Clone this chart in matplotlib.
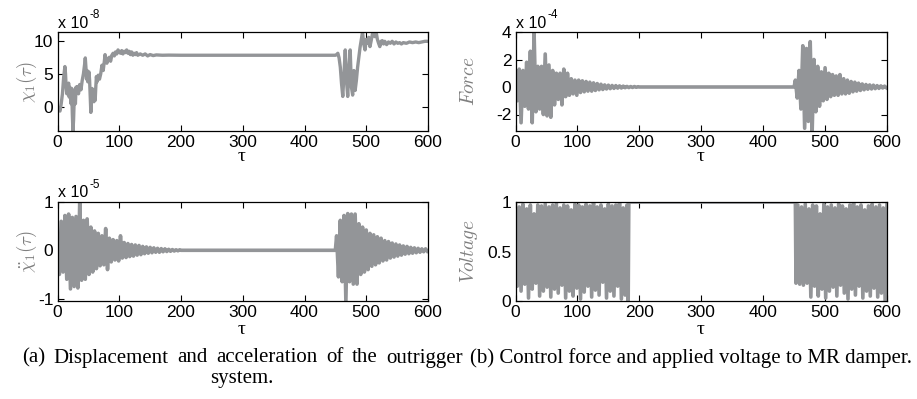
import matplotlib
matplotlib.use('Agg')
import matplotlib.pyplot as plt
import numpy as np

# ---------------- data ----------------
# displacement chi_1 (units of 1e-8)
disp_tau = [0, 2, 4, 6, 8, 10, 12, 13, 14, 15,
            16, 17, 18, 19, 20, 21, 22, 23, 24, 25,
            26, 27, 28, 29, 30, 31, 32, 34, 36, 38,
            40, 42, 44, 45, 46, 47, 48, 49, 50, 51,
            52, 53, 54, 55, 56, 57, 58, 59, 60, 61,
            62, 63, 64, 66, 68, 70, 72, 74, 76, 77,
            78, 79, 80, 82, 84, 86, 88, 90, 92, 94,
            96, 98, 100, 102, 104, 106, 108, 110, 112, 114,
            116, 118, 120, 122, 124, 126, 128, 130, 134, 138,
            142, 146, 150, 155, 160, 170, 180, 200, 300, 400,
            450, 452, 454, 456, 458, 460, 462, 464, 466, 468,
            470, 472, 474, 476, 478, 480, 482, 484, 486, 488,
            490, 492, 494, 496, 498, 500, 502, 504, 506, 508,
            510, 512, 514, 516, 518, 520, 522, 524, 526, 528,
            530, 533, 536, 539, 542, 545, 548, 551, 554, 557,
            560, 565, 570, 575, 580, 585, 590, 595, 600]
disp_val = [0.0, -0.3, -0.6, 0.5, 2.0, 4.5, 6.1, 5.0, 3.0, 2.0,
            3.2, 2.4, 3.6, 1.5, 3.0, 2.0, 0.5, 2.8, -1.0, -3.6,
            -2.0, 1.0, 2.6, 0.5, 3.0, 2.2, 3.1, 2.0, 3.4, 2.6,
            4.0, 5.0, 6.5, 7.4, 6.0, 4.2, 5.5, 3.8, 4.6, 5.3,
            4.0, 1.5, -0.8, 1.0, 2.8, 1.8, 2.6, 0.8, 1.5, 1.0,
            3.0, 4.6, 3.8, 4.8, 4.2, 5.0, 6.3, 5.5, 7.0, 7.9,
            6.8, 7.4, 6.6, 7.2, 7.5, 6.9, 7.8, 8.1, 7.7, 8.3,
            8.0, 8.6, 8.3, 8.1, 8.5, 8.0, 8.4, 8.2, 8.6, 8.1,
            8.4, 7.9, 8.3, 7.8, 8.1, 7.9, 8.2, 7.8, 8.0, 7.8,
            8.0, 7.7, 7.9, 7.75, 7.85, 7.8, 7.82, 7.8, 7.8, 7.8,
            7.8, 7.9, 8.1, 7.4, 6.0, 3.5, 1.6, 5.0, 8.6, 4.0,
            1.6, 6.0, 8.6, 3.0, 1.8, 5.5, 2.5, 4.0, 6.0, 7.5,
            9.0, 10.2, 11.3, 9.5, 8.6, 10.2, 9.6, 10.5, 9.1, 10.0,
            11.0, 11.3, 10.6, 11.3, 10.2, 9.6, 9.1, 9.9, 10.0, 9.5,
            9.9, 9.4, 9.8, 9.6, 9.9, 9.5, 9.8, 9.6, 9.7, 9.5,
            9.7, 9.6, 9.8, 9.7, 9.8, 9.7, 9.8, 9.9, 9.9]

# acceleration (units of 1e-5): alternating peaks, sampled every 3 tau
acc_tau1 = list(range(0, 199, 3))
acc_val1 = [0.2, -0.5, 0.6, -0.45, 0.72, -0.6, 0.75, -0.8, 0.68, -0.75,
            0.7, -0.78, 1.0, -0.62, 0.62, -0.6, 0.65, -0.5, 0.48, -0.45,
            0.4, -0.38, 0.35, -0.32, 0.3, -0.3, 0.45, -0.4, 0.25, -0.24,
            0.22, -0.2, 0.2, -0.22, 0.3, -0.16, 0.16, -0.15, 0.14, -0.13,
            0.12, -0.12, 0.11, -0.1, 0.1, -0.09, 0.08, -0.07, 0.07, -0.06,
            0.06, -0.05, 0.05, -0.04, 0.04, -0.04, 0.035, -0.03, 0.03, -0.025,
            0.02, -0.02, 0.015, -0.015, 0.01, -0.01, 0.01]
acc_flat_tau = [200, 450]
acc_flat_val = [0.0, 0.0]
acc_tau2 = list(range(452, 600, 3))
acc_val2 = [0.3, -0.55, 0.62, -0.65, 0.72, -1.05, 0.76, -0.65, 0.75, -0.7,
            0.75, -0.7, 0.55, -0.5, 0.48, -0.45, 0.42, -0.4, 0.35, -0.33,
            0.32, -0.3, 0.28, -0.26, 0.25, -0.22, 0.2, -0.2, 0.18, -0.16,
            0.15, -0.14, 0.13, -0.12, 0.11, -0.1, 0.09, -0.08, 0.08, -0.07,
            0.06, -0.06, 0.05, -0.05, 0.04, -0.04, 0.03, -0.03, 0.03, -0.02]

# control force (units of 1e-4)
force_tau1 = list(range(0, 199, 3))
force_val1 = [0.1, -1.0, 1.3, -2.6, 1.2, -1.4, 1.8, -1.6, 2.6, -2.6,
              4.0, -1.8, 1.5, -1.6, 1.5, -2.0, 2.4, -2.1, 1.6, -2.2,
              1.2, -1.3, 1.0, -0.9, 1.0, -1.3, 1.3, -0.7, 1.0, -0.6,
              0.6, -0.5, 0.5, -0.6, 0.5, -0.4, 0.45, -0.35, 0.4, -0.3,
              0.35, -0.3, 0.3, -0.25, 0.25, -0.2, 0.2, -0.18, 0.15, -0.14,
              0.13, -0.12, 0.11, -0.1, 0.1, -0.08, 0.08, -0.07, 0.06, -0.05,
              0.04, -0.04, 0.03, -0.03, 0.03, -0.02, 0.02]
force_flat_tau = [200, 450]
force_flat_val = [0.0, 0.0]
force_tau2 = list(range(452, 600, 3))
force_val2 = [0.5, -0.8, 1.2, -1.6, 3.0, -3.0, 2.8, -2.5, 3.3, -3.5,
              2.0, -1.8, 1.5, -1.4, 1.1, -1.0, 1.4, -0.9, 1.0, -0.7,
              0.9, -0.6, 0.8, -0.6, 0.9, -0.5, 0.6, -0.5, 0.5, -0.45,
              0.4, -0.35, 0.35, -0.3, 0.28, -0.25, 0.22, -0.2, 0.18, -0.16,
              0.15, -0.14, 0.13, -0.12, 0.1, -0.1, 0.08, -0.07, 0.06, -0.05]

# applied voltage (highs and lows of the switching signal)
volt_tau1 = list(range(0, 181, 3))
volt_high1 = [0.97, 0.95, 0.98, 0.93, 0.97, 0.88, 0.97, 0.96, 0.98, 0.95,
              0.97, 0.99, 0.94, 0.97, 0.96, 0.92, 0.98, 0.97, 0.95, 0.98,
              0.96, 0.99, 0.95, 0.97, 0.93, 0.98, 0.96, 0.97, 0.99, 0.94, 0.97]
volt_low1 = [0.15, 0.1, 0.17, 0.03, 0.12, 0.18, 0.05, 0.1, 0.14, 0.04,
             0.12, 0.08, 0.16, 0.03, 0.1, 0.05, 0.13, 0.02, 0.09, 0.15,
             0.04, 0.11, 0.06, 0.19, 0.03, 0.1, 0.05, 0.15, 0.02, 0.06]
volt_flat_tau = [182, 183, 452]
volt_flat_val = [0.0, 1.0, 1.0]
volt_tau2 = list(range(453, 601, 3))
volt_low2 = [0.18, 0.17, 0.16, 0.18, 0.04, 0.15, 0.05, 0.12, 0.03, 0.1,
             0.14, 0.05, 0.16, 0.08, 0.02, 0.12, 0.06, 0.15, 0.03, 0.1,
             0.05, 0.13, 0.04, 0.08, 0.0]
volt_high2 = [0.97, 0.95, 0.98, 0.93, 0.97, 0.96, 0.88, 0.98, 0.95, 0.97,
              0.94, 0.98, 0.96, 0.93, 0.97, 0.99, 0.95, 0.97, 0.92, 0.96,
              0.98, 0.95, 0.97, 0.94, 0.99]

x_ticks = [0, 100, 200, 300, 400, 500, 600]

# ---------------- assemble series ----------------
acc_tau = acc_tau1 + acc_flat_tau + acc_tau2
acc_val = acc_val1 + acc_flat_val + acc_val2
force_tau = force_tau1 + force_flat_tau + force_tau2
force_val = force_val1 + force_flat_val + force_val2

v1 = np.empty(len(volt_tau1))
v1[0::2] = volt_high1
v1[1::2] = volt_low1
v2 = np.empty(len(volt_tau2))
v2[0::2] = volt_low2
v2[1::2] = volt_high2
volt_tau = volt_tau1 + volt_flat_tau + volt_tau2
volt_val = list(v1) + volt_flat_val + list(v2)

# ---------------- figure ----------------
W, H = 917, 399
plt.rcParams['font.family'] = ['Liberation Sans', 'DejaVu Sans']
plt.rcParams['mathtext.fontset'] = 'cm'
fig = plt.figure(figsize=(W / 100, H / 100), dpi=100)

LINE = '#939598'
LABEL = '#7f7f7f'


def px_axes(x0, y0, x1, y1):
    return fig.add_axes([x0 / W, 1 - y1 / H, (x1 - x0) / W, (y1 - y0) / H])


def style(ax, ylim, yticks, yticklabels):
    ax.set_xlim(0, 600)
    ax.set_ylim(*ylim)
    ax.set_xticks(x_ticks)
    ax.set_yticks(yticks)
    ax.set_yticklabels(yticklabels)
    ax.tick_params(direction='in', length=4, width=0.8, labelsize=12.5,
                   top=True, right=True, pad=3, colors='black')
    for s in ax.spines.values():
        s.set_linewidth(0.9)
        s.set_zorder(3)


def ftext(x, y, s, **kw):
    fig.text(x / W, 1 - y / H, s, **kw)


ax1 = px_axes(57.5, 32, 428, 131)
ax2 = px_axes(515.5, 32, 887, 131)
ax3 = px_axes(57.5, 202, 428, 301)
ax4 = px_axes(515.5, 202, 887, 301)

ax1.plot(disp_tau, disp_val, color=LINE, lw=2.4)
style(ax1, (-3.6, 11.3), [0, 5, 10], ['0', '5', '10'])

ax2.plot(force_tau, force_val, color=LINE, lw=2.6)
style(ax2, (-3.2, 4.0), [-2, 0, 2, 4], ['-2', '0', '2', '4'])

ax3.plot(acc_tau, acc_val, color=LINE, lw=2.6)
style(ax3, (-1.05, 1.0), [-1, 0, 1], ['-1', '0', '1'])

ax4.plot(volt_tau, volt_val, color=LINE, lw=2.6)
style(ax4, (0, 1.0), [0, 0.5, 1], ['0', '0.5', '1'])

# offset texts
for (x, y, e) in [(58, 23, '-8'), (516, 23, '-4'), (58, 193, '-5')]:
    ftext(x, y, 'x 10', fontsize=11.5, ha='left', va='center')
    ftext(x + 32, y - 8, e, fontsize=8.5, ha='left', va='center')

# y labels
ftext(27, 81.5, r'$\chi_1(\tau)$', fontsize=13.5, color=LABEL, rotation=90,
      ha='center', va='center')
ftext(27, 251.5, r'$\ddot{\chi}_1(\tau)$', fontsize=13.5, color=LABEL,
      rotation=90, ha='center', va='center')
ftext(469, 81.5, r'$Force$', fontsize=14, color=LABEL, rotation=90,
      ha='center', va='center')
ftext(469, 251.5, r'$Voltage$', fontsize=14, color=LABEL, rotation=90,
      ha='center', va='center')

# x labels
for (x, y) in [(242, 157), (701, 157), (242, 329), (701, 329)]:
    ftext(x, y, 'τ', fontsize=14, family='Liberation Serif', ha='center',
          va='center')

# captions
cap_b = '(b) Control force and applied voltage to MR damper.'
cap_a_words = ['(a)', 'Displacement', 'and', 'acceleration', 'of', 'the',
               'outrigger']
renderer = fig.canvas.get_renderer()
tb = fig.text(470 / W, 1 - 358 / H, cap_b, fontsize=10,
              family='Liberation Serif', ha='left', va='center')
wb = tb.get_window_extent(renderer).width
fs = 10 * 442 / wb
tb.set_fontsize(fs)

widths = []
for w in cap_a_words:
    t = fig.text(0, 0, w, fontsize=fs, family='Liberation Serif')
    widths.append(t.get_window_extent(renderer).width)
    t.remove()
x0a, x1a = 22, 463
gap = (x1a - x0a - sum(widths)) / (len(cap_a_words) - 1)
xc = x0a
for w, wd in zip(cap_a_words, widths):
    ftext(xc, 358, w, fontsize=fs, family='Liberation Serif', ha='left',
          va='center')
    xc += wd + gap
ftext(242, 378, 'system.', fontsize=fs, family='Liberation Serif',
      ha='center', va='center')

fig.savefig('out.png', dpi=100)
